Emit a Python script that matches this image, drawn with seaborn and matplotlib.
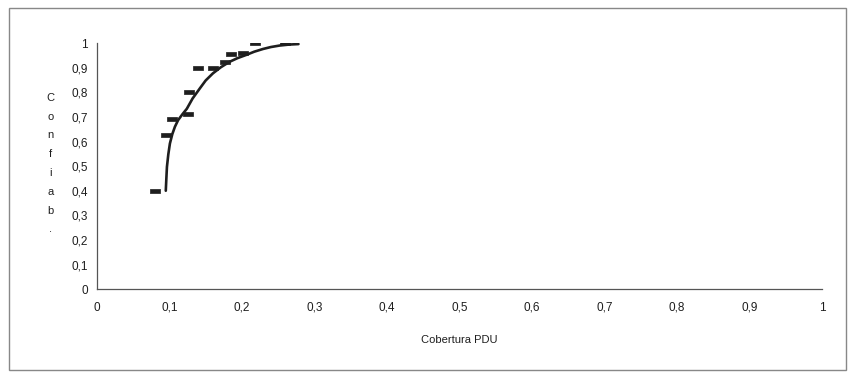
import numpy as np
import pandas as pd
import matplotlib
matplotlib.use("Agg")
import matplotlib.pyplot as plt
from matplotlib.patches import Rectangle
import seaborn as sns

# observed points (Cobertura PDU, Confiab.)
obs_x = [0.080, 0.095, 0.104, 0.125, 0.127, 0.140, 0.160, 0.177, 0.185, 0.202, 0.218, 0.259]
obs_y = [0.400, 0.625, 0.690, 0.713, 0.800, 0.900, 0.900, 0.924, 0.955, 0.960, 0.999, 1.000]

# trend curve
curve_x = [0.095, 0.0958, 0.0966, 0.0985, 0.1007, 0.104, 0.1076, 0.112, 0.118, 0.124,
           0.132, 0.142, 0.150, 0.160, 0.171, 0.183, 0.194, 0.206, 0.217, 0.229, 0.240, 0.252, 0.265, 0.278]
curve_y = [0.400, 0.450, 0.497, 0.548, 0.592, 0.630, 0.660, 0.687, 0.711, 0.733,
           0.775, 0.816, 0.848, 0.877, 0.902, 0.924, 0.939, 0.952, 0.965, 0.976, 0.984, 0.990, 0.994, 0.996]

xticks = [0, 0.1, 0.2, 0.3, 0.4, 0.5, 0.6, 0.7, 0.8, 0.9, 1]
yticks = [0, 0.1, 0.2, 0.3, 0.4, 0.5, 0.6, 0.7, 0.8, 0.9, 1]

def fmt(v):
    return f"{v:g}".replace(".", ",")

sns.set_style("white")
plt.rcParams["font.family"] = ["Liberation Sans", "DejaVu Sans"]

fig = plt.figure(figsize=(8.5, 3.78), dpi=100)
ax = fig.add_axes([0.114, 0.235, 0.853, 0.651])

ink = "#1e1e1e"
df_c = pd.DataFrame({"x": curve_x, "y": curve_y})
sns.lineplot(data=df_c, x="x", y="y", sort=False, color=ink, linewidth=1.9, ax=ax)

rect = [(-1, -0.38), (1, -0.38), (1, 0.38), (-1, 0.38), (-1, -0.38)]
df_o = pd.DataFrame({"x": obs_x, "y": obs_y})
sns.scatterplot(data=df_o, x="x", y="y", marker=rect, s=50, color=ink,
                edgecolor=ink, linewidth=0.5, ax=ax, zorder=3)

ax.set_xlim(0, 1)
ax.set_ylim(0, 1)
ax.set_xticks(xticks)
ax.set_yticks(yticks)
ax.set_xticklabels([fmt(v) for v in xticks], fontsize=8.5, color=ink)
ax.set_yticklabels([fmt(v) for v in yticks], fontsize=8.5, color=ink)
ax.tick_params(axis="both", direction="inout", length=5, width=0.8, color="#555555", pad=4)
ax.tick_params(axis="x", pad=6.5)
for side in ["top", "right"]:
    ax.spines[side].set_visible(False)
for side in ["left", "bottom"]:
    ax.spines[side].set_color("#555555")
    ax.spines[side].set_linewidth(0.9)

ax.set_xlabel("Cobertura PDU", fontsize=8, color=ink, labelpad=15)
ax.set_ylabel("")
fig.text(0.059, 0.567, "C\no\nn\nf\ni\na\nb\n.", fontsize=8, color=ink,
         ha="center", va="center", linespacing=2.1)

fig.patches.append(Rectangle((0.010, 0.022), 0.985, 0.956, transform=fig.transFigure,
                             fill=False, edgecolor="#888888", linewidth=1.0))

fig.savefig("out.png", dpi=100)
